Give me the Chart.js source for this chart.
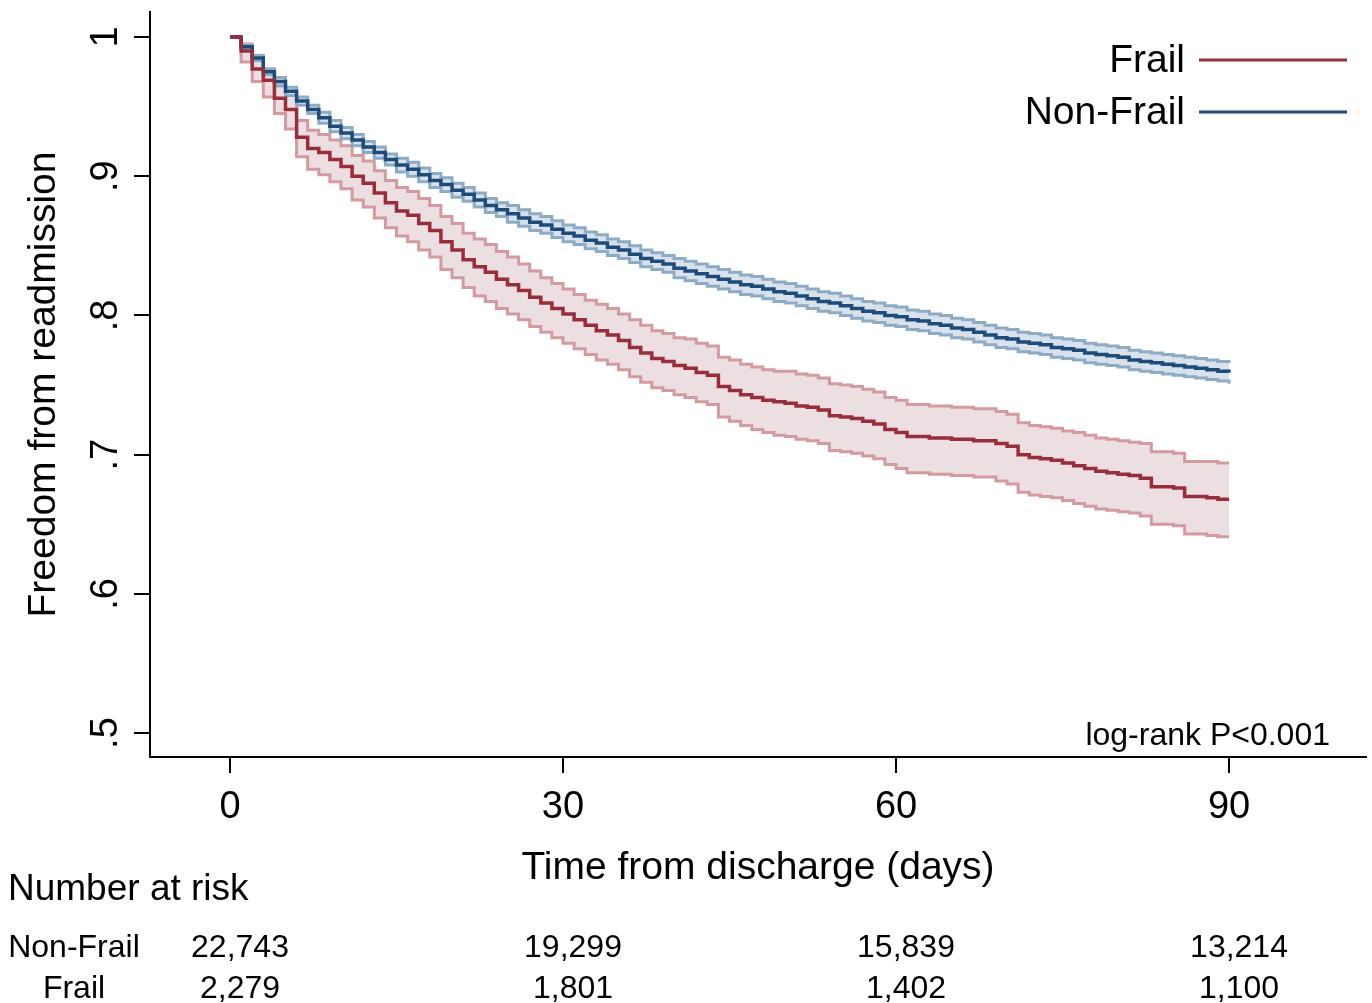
<!DOCTYPE html>
<html>
<head>
<meta charset="utf-8">
<title>Freedom from readmission</title>
<script src="https://cdn.jsdelivr.net/npm/chart.js@4.4.0/dist/chart.umd.min.js"></script>
<style>
  html, body { margin: 0; padding: 0; background: #fff; }
  canvas { display: block; }
</style>
</head>
<body>
<canvas id="kmChart" width="1372" height="1003"></canvas>
<script>
// ------ //
//  DATA  //
// ------ //

// Days since discharge (one step per day)
const days = [
  0, 1, 2, 3, 4, 5, 6, 7, 8, 9, 10, 11, 12, 13, 14, 15, 16, 17, 18, 19,
  20, 21, 22, 23, 24, 25, 26, 27, 28, 29, 30, 31, 32, 33, 34, 35, 36, 37, 38, 39,
  40, 41, 42, 43, 44, 45, 46, 47, 48, 49, 50, 51, 52, 53, 54, 55, 56, 57, 58, 59,
  60, 61, 62, 63, 64, 65, 66, 67, 68, 69, 70, 71, 72, 73, 74, 75, 76, 77, 78, 79,
  80, 81, 82, 83, 84, 85, 86, 87, 88, 89, 90
];

// Frail: survival estimate and 95% CI
const frailSurv = [
  1.000, .990, .977, .969, .956, .948, .928, .920, .917, .912, .907, .900, .895, .888, .881, .875, .872, .866, .861, .853,
  .847, .840, .835, .831, .826, .822, .818, .813, .809, .805, .801, .797, .793, .789, .786, .782, .777, .773, .769, .767,
  .764, .762, .759, .757, .749, .746, .743, .741, .739, .738, .737, .735, .734, .732, .728, .727, .726, .724, .722, .718,
  .716, .713, .713, .712, .712, .711, .711, .710, .710, .708, .706, .700, .698, .697, .696, .694, .692, .690, .688, .687,
  .686, .685, .683, .677, .677, .676, .670, .670, .669, .668, .668
];
const frailUpper = [
  1.000, .995, .984, .977, .965, .958, .940, .933, .930, .926, .922, .915, .911, .904, .897, .892, .889, .884, .879, .871,
  .866, .859, .855, .851, .846, .842, .837, .832, .827, .823, .819, .815, .811, .808, .805, .801, .797, .793, .789, .787,
  .784, .783, .780, .778, .770, .768, .765, .763, .761, .760, .760, .758, .757, .755, .751, .750, .749, .747, .745, .741,
  .739, .736, .736, .735, .735, .734, .734, .733, .733, .731, .729, .723, .721, .720, .719, .717, .716, .714, .712, .711,
  .710, .709, .708, .702, .702, .701, .695, .695, .695, .694, .694
];
const frailLower = [
  1.000, .982, .968, .957, .945, .934, .914, .905, .901, .896, .891, .883, .878, .870, .863, .857, .853, .847, .842, .833,
  .827, .820, .814, .810, .805, .801, .797, .792, .788, .784, .780, .776, .772, .768, .765, .761, .756, .752, .748, .746,
  .743, .741, .738, .736, .727, .724, .721, .718, .716, .714, .713, .711, .710, .708, .703, .702, .701, .699, .697, .693,
  .690, .687, .687, .686, .686, .685, .685, .684, .684, .681, .679, .673, .671, .670, .669, .667, .665, .663, .661, .660,
  .659, .658, .656, .650, .650, .649, .643, .643, .642, .641, .641
];

// Non-Frail: survival estimate and 95% CI
const nonFrailSurv = [
  1.000, .993, .985, .975, .968, .961, .954, .948, .942, .936, .931, .926, .921, .917, .912, .908, .905, .901, .897, .894,
  .890, .887, .883, .879, .876, .873, .870, .867, .865, .862, .859, .857, .854, .852, .849, .847, .844, .841, .839, .837,
  .834, .832, .830, .828, .826, .824, .822, .821, .819, .817, .816, .814, .812, .810, .809, .807, .805, .803, .802, .800,
  .799, .797, .796, .794, .793, .791, .790, .788, .786, .784, .783, .781, .780, .779, .777, .776, .775, .773, .772, .771,
  .770, .768, .767, .766, .765, .764, .763, .762, .761, .760, .759
];
const nonFrailUpper = [
  1.000, .994, .987, .977, .971, .964, .957, .951, .946, .940, .935, .930, .925, .921, .916, .913, .910, .906, .902, .899,
  .895, .892, .888, .884, .881, .879, .876, .873, .871, .868, .865, .863, .860, .858, .855, .853, .850, .847, .845, .843,
  .841, .839, .837, .835, .833, .831, .829, .828, .826, .824, .823, .821, .819, .817, .816, .814, .812, .810, .809, .807,
  .806, .804, .803, .801, .800, .798, .797, .795, .793, .791, .790, .788, .787, .786, .784, .783, .782, .780, .779, .778,
  .777, .775, .774, .773, .772, .771, .770, .769, .768, .767, .766
];
const nonFrailLower = [
  1.000, .992, .983, .973, .965, .958, .951, .945, .938, .932, .927, .922, .917, .913, .908, .903, .900, .896, .892, .889,
  .885, .882, .878, .874, .871, .867, .864, .861, .859, .856, .853, .851, .848, .846, .843, .841, .838, .835, .833, .831,
  .827, .825, .823, .821, .819, .817, .815, .814, .812, .810, .809, .807, .805, .803, .802, .800, .798, .796, .795, .793,
  .792, .790, .789, .787, .786, .784, .783, .781, .779, .777, .776, .774, .773, .772, .770, .769, .768, .766, .765, .764,
  .763, .761, .760, .759, .758, .757, .756, .755, .754, .753, .751
];

// Axis ticks
const xTicks = [0, 30, 60, 90];
const yTicks = [0.5, 0.6, 0.7, 0.8, 0.9, 1];
const yTickLabels = ['.5', '.6', '.7', '.8', '.9', '1'];

// Number at risk table
const riskDays = [0, 30, 60, 90];
const riskNonFrail = [22743, 19299, 15839, 13214];
const riskFrail = [2279, 1801, 1402, 1100];


// ------------------ //
//  HELPER FUNCTIONS  //
// ------------------ //

const FONT = "'Liberation Sans', Arial, sans-serif";

// Pairs the day array with one series so the linear x scale can place it
function toPoints(values) {
  return days.map(function (d, i) { return { x: d, y: values[i] }; });
}

// Builds a step line dataset
function stepLine(label, values, color, width, extra) {
  return Object.assign({
    label: label,
    data: toPoints(values),
    borderColor: color,
    borderWidth: width,
    pointRadius: 0,
    stepped: true,
    fill: false
  }, extra || {});
}

// Formats a count with thousands separators
function formatCount(n) {
  return n.toLocaleString('en-US');
}


// ----------- //
//  PLUGIN     //
// ----------- //

// Draws the legend, the log-rank label and the number-at-risk table
const kmExtras = {
  id: 'kmExtras',
  afterDraw: function (chart) {
    const ctx = chart.ctx;
    const area = chart.chartArea;
    const xs = chart.scales.x;

    ctx.save();
    ctx.fillStyle = '#000';
    ctx.textBaseline = 'middle';

    // Legend: label first, line after
    const legendRows = [
      { text: 'Frail', color: chart.data.datasets[0].borderColor, y: area.top + 48 },
      { text: 'Non-Frail', color: chart.data.datasets[1].borderColor, y: area.top + 100 }
    ];
    ctx.font = '39px ' + FONT;
    ctx.textAlign = 'right';
    legendRows.forEach(function (row) {
      ctx.fillStyle = '#000';
      ctx.fillText(row.text, area.right - 181, row.y + 1);
      ctx.strokeStyle = row.color;
      ctx.lineWidth = 3;
      ctx.beginPath();
      ctx.moveTo(area.right - 167, row.y);
      ctx.lineTo(area.right - 19, row.y);
      ctx.stroke();
    });

    // Log-rank test
    ctx.font = '32px ' + FONT;
    ctx.fillText('log-rank P<0.001', area.right - 36, area.bottom - 21);

    // Number at risk
    ctx.textAlign = 'left';
    ctx.font = '37px ' + FONT;
    ctx.fillText('Number at risk', 8, 890);

    ctx.font = '32px ' + FONT;
    ctx.textAlign = 'center';
    ctx.fillText('Non-Frail', 74, 948);
    ctx.fillText('Frail', 74, 989);
    riskDays.forEach(function (d, i) {
      const px = xs.getPixelForValue(d) + 10;
      ctx.fillText(formatCount(riskNonFrail[i]), px, 948);
      ctx.fillText(formatCount(riskFrail[i]), px, 989);
    });

    ctx.restore();
  }
};


// ----------- //
//  CHART      //
// ----------- //

Chart.defaults.font.family = FONT;
Chart.defaults.color = '#000';

const ctx = document.getElementById('kmChart');
new Chart(ctx, {
  type: 'line',
  data: {
    datasets: [
      // first entry is drawn on top
      stepLine('Frail', frailSurv, '#9b2d3a', 3.5),
      stepLine('Non-Frail', nonFrailSurv, '#1b4c7c', 3.5),
      stepLine('Non-Frail upper', nonFrailUpper, '#8eabc6', 3, { fill: '+1', backgroundColor: '#d9e2eb' }),
      stepLine('Non-Frail lower', nonFrailLower, '#8eabc6', 3),
      stepLine('Frail upper', frailUpper, '#d49aa0', 3, { fill: '+1', backgroundColor: '#ecdfe1' }),
      stepLine('Frail lower', frailLower, '#d49aa0', 3)
    ]
  },
  options: {
    responsive: false,
    animation: false,
    layout: {
      padding: { left: 0, top: 12, right: 6, bottom: 111 }
    },
    plugins: {
      legend: { display: false },
      tooltip: { enabled: false },
      filler: { drawTime: 'beforeDatasetsDraw' }
    },
    scales: {
      x: {
        type: 'linear',
        min: -7.207,
        max: 102.34,
        afterBuildTicks: function (scale) {
          scale.ticks = xTicks.map(function (v) { return { value: v }; });
        },
        afterFit: function (scale) {
          scale.height = 135;
          scale.paddingLeft = 0;
          scale.paddingRight = 0;
        },
        ticks: {
          padding: 12,
          maxRotation: 0,
          font: { size: 38 }
        },
        grid: {
          display: true,
          drawOnChartArea: false,
          drawTicks: true,
          tickLength: 16,
          color: '#000',
          lineWidth: 2
        },
        border: { display: true, color: '#000', width: 2 },
        title: {
          display: true,
          text: 'Time from discharge (days)',
          font: { size: 39 },
          padding: { top: 0, bottom: 0 }
        }
      },
      y: {
        type: 'linear',
        min: 0.4828,
        max: 1.018,
        afterBuildTicks: function (scale) {
          scale.ticks = yTicks.map(function (v) { return { value: v }; });
        },
        afterFit: function (scale) {
          scale.width = 150;
          scale.paddingTop = 0;
          scale.paddingBottom = 0;
        },
        ticks: {
          padding: 12,
          minRotation: 90,
          maxRotation: 90,
          crossAlign: 'center',
          font: { size: 38 },
          callback: function (value, index) {
            return yTickLabels[index];
          }
        },
        grid: {
          display: true,
          drawOnChartArea: false,
          drawTicks: true,
          tickLength: 16,
          color: '#000',
          lineWidth: 2
        },
        border: { display: true, color: '#000', width: 2 },
        title: {
          display: true,
          text: 'Freedom from readmission',
          font: { size: 39 },
          padding: { top: 21, bottom: 0 }
        }
      }
    }
  },
  plugins: [kmExtras]
});
</script>
</body>
</html>
